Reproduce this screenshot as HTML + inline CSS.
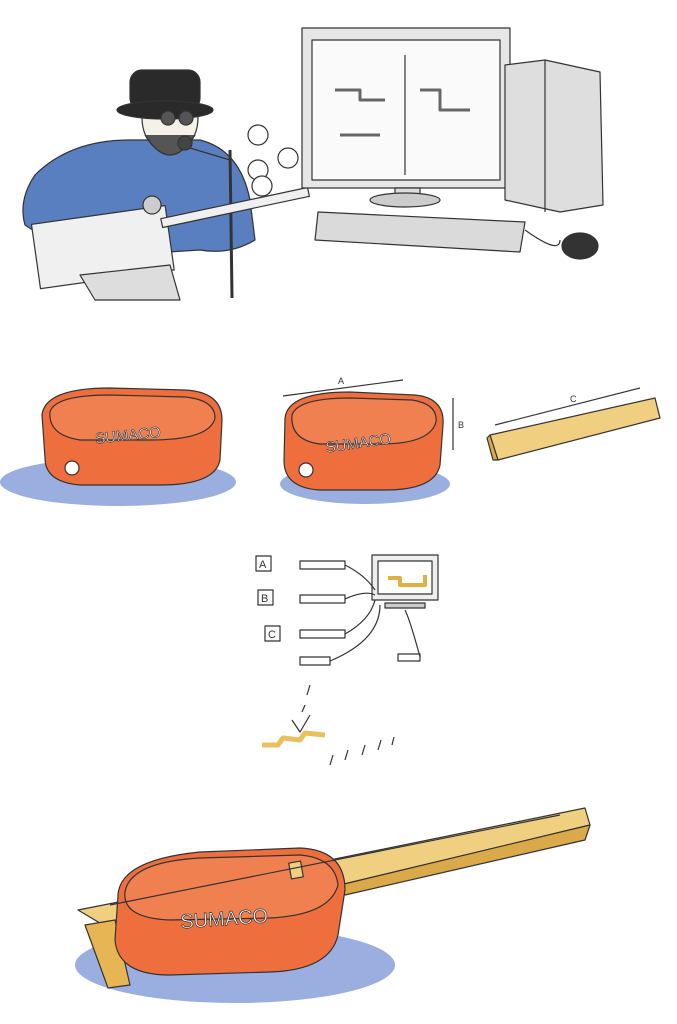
<!DOCTYPE html>
<html><head><meta charset="utf-8"><style>
html,body{margin:0;padding:0;background:#fff;}
svg{display:block;font-family:"Liberation Sans",sans-serif;}
</style></head><body>
<svg width="677" height="1024" viewBox="0 0 677 1024" xmlns="http://www.w3.org/2000/svg" stroke="#333" stroke-width="1.2" stroke-linejoin="round">
<!-- ===== TOP: man ===== -->
<path d="M35 175 Q70 140 130 140 L200 140 Q240 150 250 200 L255 240 Q230 255 200 250 L120 255 Q60 250 25 225 Q18 200 35 175Z" fill="#5a7fc0"/>
<rect x="35" y="215" width="135" height="65" fill="#f0f0f0" transform="rotate(-8 100 245)"/>
<path d="M80 275 L95 300 L180 300 L170 265Z" fill="#ddd"/>
<ellipse cx="170" cy="118" rx="28" ry="35" fill="#f5f0e8"/>
<path d="M145 135 Q170 175 195 135" fill="#555"/>
<rect x="130" y="70" width="70" height="40" rx="12" fill="#2a2a2a"/>
<ellipse cx="165" cy="110" rx="48" ry="9" fill="#2a2a2a"/>
<circle cx="168" cy="118" r="7" fill="#555"/><circle cx="186" cy="118" r="7" fill="#555"/>
<circle cx="185" cy="143" r="7" fill="#444"/>
<line x1="190" y1="148" x2="230" y2="160"/>
<line x1="230" y1="150" x2="232" y2="298" stroke-width="3"/>
<rect x="160" y="203" width="150" height="9" fill="#f0f0f0" transform="rotate(-12 235 207)"/>
<circle cx="152" cy="205" r="9" fill="#ccc"/>
<circle cx="258" cy="135" r="10" fill="#fff"/><circle cx="288" cy="158" r="10" fill="#fff"/>
<circle cx="258" cy="170" r="10" fill="#fff"/><circle cx="262" cy="186" r="10" fill="#fff"/>
<!-- computer -->
<rect x="302" y="28" width="208" height="160" fill="#e6e6e6"/>
<rect x="312" y="40" width="188" height="140" fill="#fafafa"/>
<line x1="405" y1="55" x2="405" y2="175"/>
<path d="M335 90 L360 90 L360 100 L385 100 M340 135 L380 135 M420 90 L440 90 L440 110 L470 110" fill="none" stroke-width="3" stroke="#666"/>
<rect x="395" y="188" width="25" height="10" fill="#ddd"/>
<ellipse cx="405" cy="200" rx="35" ry="7" fill="#ccc"/>
<path d="M505 65 L545 60 L600 72 L603 205 L560 212 L505 200Z" fill="#dedede"/>
<path d="M545 60 L545 212" fill="none"/>
<path d="M318 212 L525 222 L520 252 L315 240Z" fill="#dadada"/>
<ellipse cx="580" cy="246" rx="18" ry="13" fill="#333"/>
<path d="M525 230 Q560 255 560 240" fill="none"/>
<!-- ===== Row 2 ===== -->
<ellipse cx="118" cy="482" rx="118" ry="24" fill="#9aaee0" stroke="none"/>
<path d="M42 415 Q45 388 110 388 L185 390 Q222 392 222 420 L220 460 Q215 485 160 485 L80 485 Q45 482 45 458Z" fill="#ee6e3e"/>
<path d="M50 412 Q55 395 110 395 L185 397 Q215 400 215 418 Q210 440 150 440 L80 440 Q48 435 50 412Z" fill="#f08050"/>
<text x="95" y="440" font-size="15" fill="#fff" stroke="#333" stroke-width="0.6" transform="rotate(-6 130 435)">SUMACO</text>
<circle cx="72" cy="468" r="7" fill="#fff"/>
<ellipse cx="365" cy="484" rx="85" ry="20" fill="#9aaee0" stroke="none"/>
<path d="M285 418 Q288 392 350 392 L415 395 Q445 398 443 425 L440 465 Q435 490 385 490 L320 490 Q285 488 284 462Z" fill="#ee6e3e"/>
<path d="M292 415 Q298 398 350 398 L412 400 Q438 404 436 422 Q430 444 380 444 L320 444 Q290 440 292 415Z" fill="#f08050"/>
<text x="325" y="447" font-size="15" fill="#fff" stroke="#333" stroke-width="0.6" transform="rotate(-8 365 440)">SUMACO</text>
<circle cx="306" cy="470" r="7" fill="#fff"/>
<line x1="283" y1="396" x2="403" y2="380"/><text x="338" y="384" font-size="9" stroke="none" fill="#333">A</text>
<line x1="453" y1="398" x2="453" y2="450"/><text x="458" y="428" font-size="9" stroke="none" fill="#333">B</text>
<line x1="495" y1="425" x2="640" y2="388"/><text x="570" y="402" font-size="9" stroke="none" fill="#333">C</text>
<path d="M490 435 L655 398 L660 418 L498 460Z" fill="#f0cf80"/>
<path d="M490 435 L498 460 L493 460 L487 438Z" fill="#d9a94a"/>
<!-- ===== Diagram ===== -->
<g fill="#fff" font-size="11">
<rect x="256" y="556" width="15" height="15"/><text x="259" y="568" stroke="none" fill="#333">A</text>
<rect x="258" y="590" width="15" height="15"/><text x="261" y="602" stroke="none" fill="#333">B</text>
<rect x="265" y="626" width="15" height="15"/><text x="268" y="638" stroke="none" fill="#333">C</text>
<rect x="300" y="561" width="45" height="8"/><rect x="300" y="595" width="45" height="8"/>
<rect x="300" y="630" width="45" height="8"/><rect x="300" y="657" width="30" height="8"/>
<rect x="398" y="654" width="22" height="7"/>
<rect x="372" y="555" width="66" height="45" fill="#eee"/>
<rect x="378" y="561" width="54" height="33"/>
<rect x="385" y="603" width="40" height="5" fill="#ccc"/>
</g>
<path d="M388 578 L400 578 L400 585 L425 585 L425 575" fill="none" stroke="#e0b040" stroke-width="4"/>
<path d="M345 565 Q365 575 375 590 M345 599 Q365 590 375 595 M345 634 Q370 620 375 600 M330 661 Q380 640 380 605 M420 657 Q410 620 405 610" fill="none"/>
<path d="M310 685 L307 695 M305 705 L302 712 M292 720 L300 732 L310 715" fill="none"/>
<path d="M262 745 L278 745 L283 738 L300 740 L305 733 L325 735" fill="none" stroke="#e8c060" stroke-width="5"/>
<path d="M330 765 L333 755 M345 760 L348 750 M362 755 L365 745 M378 750 L381 740 M392 745 L394 737" fill="none"/>
<!-- ===== Bottom guitar ===== -->
<ellipse cx="235" cy="965" rx="160" ry="38" fill="#9aaee0" stroke="none"/>
<path d="M78 910 L330 860 L585 808 L590 825 L340 885 L120 935Z" fill="#f0cf80"/>
<path d="M85 925 L115 920 L130 985 L108 988Z" fill="#e8b555"/>
<path d="M340 885 L590 825 L585 840 L345 895Z" fill="#d9a94a"/>
<path d="M118 895 Q120 860 200 852 L300 848 Q345 850 345 890 L338 935 Q330 970 270 972 L170 975 Q118 975 115 940Z" fill="#ee6e3e"/>
<path d="M125 892 Q130 862 200 858 L300 855 Q335 858 338 885 Q330 915 270 918 L170 920 Q122 918 125 892Z" fill="#f08050"/>
<text x="180" y="925" font-size="20" fill="#fff" stroke="#333" stroke-width="0.7" transform="rotate(-4 230 915)">SUMACO</text>
<rect x="290" y="862" width="12" height="16" fill="#f0cf80" transform="rotate(-10 296 870)"/>
<line x1="110" y1="905" x2="560" y2="815"/>
</svg>
</body></html>
